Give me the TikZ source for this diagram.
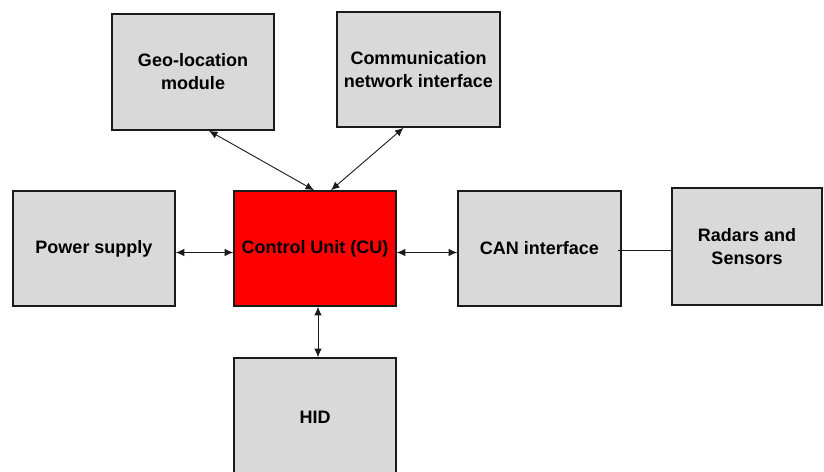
\documentclass[tikz,border=0pt]{standalone}
\usepackage{fontspec}
\setmainfont{Liberation Sans}
\usetikzlibrary{arrows.meta}
\definecolor{boxgrey}{HTML}{D9D9D9}
\definecolor{cured}{HTML}{FF0000}
\definecolor{edge}{HTML}{1A1A1A}
\tikzset{
  block/.style={draw=edge, line width=1.6pt, fill=boxgrey, rectangle,
    inner sep=0pt, align=center,
    font=\fontsize{18}{23}\selectfont\bfseries},
  link/.style={draw=edge, line width=0.9pt},
  biarrow/.style={link, {Latex[length=8.5pt,width=7.5pt]}-{Latex[length=8.5pt,width=7.5pt]}}
}
\begin{document}
\begin{tikzpicture}[x=1pt,y=-1pt]
  \useasboundingbox (0,0) rectangle (824,471);
  \clip (0,0) rectangle (824,471);

  % blocks
  \node[block, minimum width=162pt, minimum height=116pt] (geo) at (193,72)
    {Geo-location\\module};
  \node[block, minimum width=163pt, minimum height=115pt] (comm) at (418.5,69.5)
    {Communication\\network interface};
  \node[block, minimum width=162pt, minimum height=115pt] (power) at (94,248.5)
    {Power supply};
  \node[block, fill=cured, minimum width=162pt, minimum height=115pt] (cu) at (315,248.5)
    {Control Unit (CU)};
  \node[block, minimum width=163pt, minimum height=115pt] (can) at (539.5,248.5)
    {CAN interface};
  \node[block, minimum width=150pt, minimum height=117pt] (radar) at (747,246.5)
    {Radars and\\Sensors};
  \node[block, minimum width=162pt, minimum height=118pt] (hid) at (315,417)
    {HID};

  % connectors
  \draw[biarrow] ([xshift=16pt]geo.south) -- ([xshift=-1pt]cu.north);
  \draw[biarrow] ([xshift=-15pt]comm.south) -- ([xshift=16pt]cu.north);
  \draw[biarrow] ([yshift=-4pt]power.east) -- ([yshift=-4pt]cu.west);
  \draw[biarrow] ([yshift=-4pt]cu.east) -- ([yshift=-4pt]can.west);
  \coordinate (canin) at ([xshift=-4pt,yshift=-2pt]can.east);
  \draw[link] (canin) -- (radar.west |- canin);
  \draw[biarrow] ([xshift=3pt]cu.south) -- ([xshift=3pt]hid.north);
\end{tikzpicture}
\end{document}
